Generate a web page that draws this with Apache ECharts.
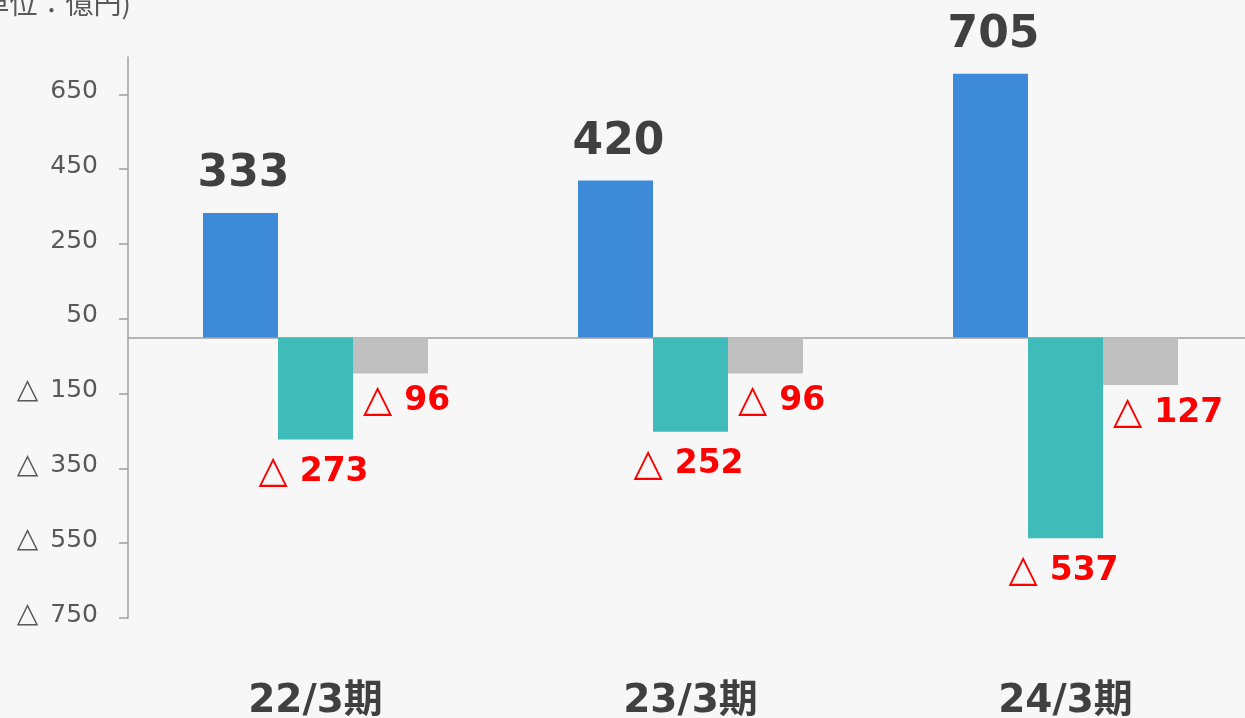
<!DOCTYPE html>
<html>
<head>
<meta charset="utf-8">
<script src="https://cdn.jsdelivr.net/npm/echarts@6/dist/echarts.min.js"></script>
<style>
  html, body { margin: 0; padding: 0; background: #f7f7f7; }
  #main { width: 1245px; height: 718px; }
</style>
</head>
<body>
<div id="main"></div>
<script>
// data
var categories = ['22/3期', '23/3期', '24/3期'];
var blueValues = [333, 420, 705];
var tealValues = [-273, -252, -537];
var grayValues = [-96, -96, -127];
var yTicks = [-750, -550, -350, -150, 50, 250, 450, 650];

var FONT = '"DejaVu Sans", "Noto Sans CJK JP", sans-serif';

function fmtNeg(v) {
  return v < 0 ? '{tri|△}{num|' + (-v) + '}' : '' + v;
}

var redRich = {
  tri: { color: '#ff0000', fontSize: 38, fontWeight: 'normal', fontFamily: FONT, padding: [0, 12, 0, 0] },
  num: { color: '#ff0000', fontSize: 33, fontWeight: 'bold', fontFamily: FONT }
};

var myChart = echarts.init(document.getElementById('main'));
var option = {
  backgroundColor: '#f7f7f7',
  animation: false,
  grid: { left: 128, width: 1125, top: 57, bottom: 100, outerBoundsMode: 'none', containLabel: false },
  graphic: [{
    type: 'text',
    x: 131, y: 3,
    style: {
      text: '（単位：億円)',
      textAlign: 'right',
      textVerticalAlign: 'middle',
      fill: '#595959',
      fontSize: 28,
      fontFamily: '"Noto Sans CJK JP", sans-serif'
    }
  }],
  xAxis: [{
    type: 'category',
    data: categories,
    position: 'bottom',
    axisLine: { show: false, onZero: false },
    axisTick: { show: false },
    axisLabel: {
      margin: 64,
      color: '#404040',
      fontSize: 39,
      fontWeight: 'bold',
      fontFamily: FONT
    }
  }, {
    type: 'category',
    data: categories,
    position: 'bottom',
    axisLine: { show: true, onZero: true, lineStyle: { color: '#a0a0a0', width: 1.5 } },
    axisTick: { show: false },
    axisLabel: { show: false }
  }],
  yAxis: {
    type: 'value',
    min: -750,
    max: 750,
    interval: 200,
    splitLine: { show: false },
    axisLine: { show: true, lineStyle: { color: '#a0a0a0', width: 1.5 } },
    axisTick: { show: true, length: 9, customValues: yTicks, lineStyle: { color: '#a0a0a0', width: 1.5 } },
    axisLabel: {
      customValues: yTicks,
      margin: 30,
      color: '#595959',
      fontSize: 25,
      fontFamily: FONT,
      padding: [0, 0, 6, 0],
      formatter: function (v) {
        return v < 0 ? '{t|△}' + (-v) : '' + v;
      },
      rich: {
        t: { fontSize: 28, color: '#595959', fontFamily: FONT, padding: [0, 12, 0, 0] }
      }
    }
  },
  series: [{
    type: 'bar',
    data: blueValues,
    barWidth: 75,
    barGap: '0%',
    itemStyle: { color: '#3c8ad8' },
    label: {
      show: true,
      position: ['50%', 0],
      align: 'center',
      verticalAlign: 'middle',
      offset: [3, -38],
      color: '#404040',
      fontSize: 44,
      fontWeight: 'bold',
      fontFamily: FONT
    }
  }, {
    type: 'bar',
    data: tealValues,
    barWidth: 75,
    barGap: '0%',
    itemStyle: { color: '#3fbcb9' },
    label: {
      show: true,
      position: ['50%', '100%'],
      align: 'center',
      verticalAlign: 'middle',
      offset: [-2, 33],
      formatter: function (p) { return fmtNeg(p.value); },
      rich: redRich
    }
  }, {
    type: 'bar',
    data: grayValues,
    barWidth: 75,
    barGap: '0%',
    itemStyle: { color: '#bfbfbf' },
    label: {
      show: true,
      position: [10, '100%'],
      align: 'left',
      verticalAlign: 'middle',
      offset: [0, 28],
      formatter: function (p) { return fmtNeg(p.value); },
      rich: redRich
    }
  }]
};
myChart.setOption(option);
</script>
</body>
</html>
